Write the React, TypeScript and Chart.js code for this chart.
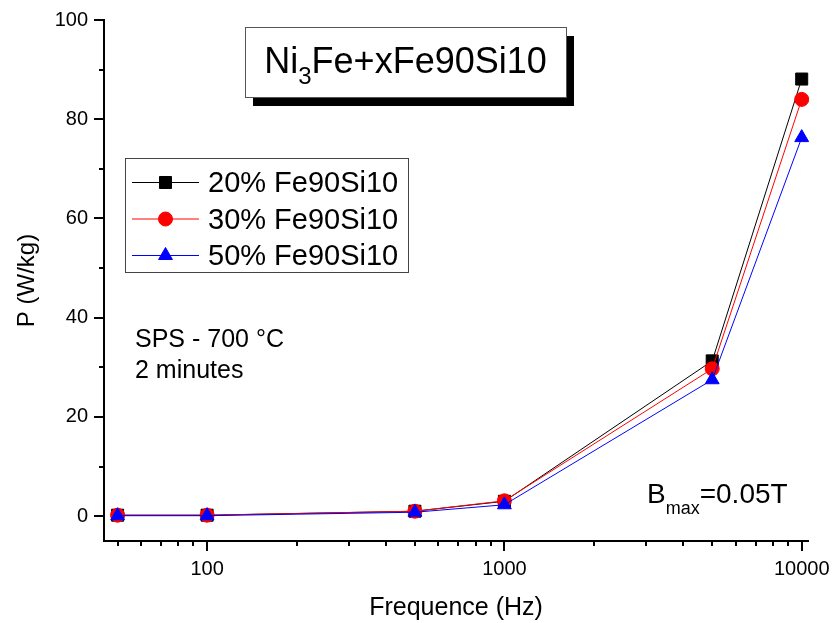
import React, { useEffect, useRef } from 'react';
import { Chart, registerables } from 'chart.js';
import { drawPoint } from 'chart.js/helpers';

Chart.register(...registerables);

const frequencies = [50, 100, 500, 1000, 5000, 10000];
const series20 = [0.2, 0.2, 1.0, 3.0, 31.3, 88.1];
const series30 = [0.2, 0.2, 1.0, 3.1, 29.7, 84.0];
const series50 = [0.1, 0.1, 0.8, 2.3, 27.5, 76.3];
const seriesLabels = ['20% Fe90Si10', '30% Fe90Si10', '50% Fe90Si10'];
const seriesColors = ['#000000', '#ff0000', '#0000ff'];
const seriesStyles = ['rect', 'circle', 'triangle'];
const seriesRadii = [8.5, 7, 8];

const xMajorTicks = [100, 1000, 10000];
const xMinorTicks = [50, 60, 70, 80, 90, 200, 300, 400, 500, 600, 700, 800, 900, 2000, 3000, 4000, 5000, 6000, 7000, 8000, 9000];
const yMajorTicks = [0, 20, 40, 60, 80, 100];
const yMinorTicks = [10, 30, 50, 70, 90];

const FONT = "'Liberation Sans', Arial, Helvetica, sans-serif";

const zeroPadding = (s: any) => {
  s.paddingTop = 0;
  s.paddingBottom = 0;
  s.paddingLeft = 0;
  s.paddingRight = 0;
};

const tickPlugin = {
  id: 'axisTicks',
  afterDraw(chart: any) {
    const { ctx, chartArea } = chart;
    const xs = chart.scales.x;
    const ys = chart.scales.y;
    ctx.save();
    ctx.strokeStyle = '#000';
    ctx.lineWidth = 2;
    const bottom = chartArea.bottom;
    const left = chartArea.left;
    const drawX = (vals: number[], len: number) => {
      vals.forEach((v) => {
        const px = Math.round(xs.getPixelForValue(v));
        ctx.beginPath();
        ctx.moveTo(px, bottom);
        ctx.lineTo(px, bottom + len);
        ctx.stroke();
      });
    };
    const drawY = (vals: number[], len: number) => {
      vals.forEach((v) => {
        const py = Math.round(ys.getPixelForValue(v));
        ctx.beginPath();
        ctx.moveTo(left, py);
        ctx.lineTo(left - len, py);
        ctx.stroke();
      });
    };
    drawX(xMajorTicks, 10);
    drawX(xMinorTicks, 5);
    drawY(yMajorTicks, 10);
    drawY(yMinorTicks, 5);
    ctx.restore();
  },
};

const annotationPlugin = {
  id: 'annotations',
  afterDraw(chart: any) {
    const { ctx } = chart;
    ctx.save();
    // Title box with shadow
    const bx = 245, by = 27, bw = 321, bh = 70;
    ctx.fillStyle = '#000';
    ctx.fillRect(bx + 8, by + 9, bw, bh);
    ctx.fillStyle = '#fff';
    ctx.fillRect(bx, by, bw, bh);
    ctx.strokeStyle = '#555';
    ctx.lineWidth = 1;
    ctx.strokeRect(bx + 0.5, by + 0.5, bw, bh);

    ctx.fillStyle = '#000';
    ctx.textBaseline = 'alphabetic';
    ctx.textAlign = 'left';
    ctx.font = `36px ${FONT}`;
    const p1 = 'Ni';
    const p2 = '3';
    const p3 = 'Fe+xFe90Si10';
    const w1 = ctx.measureText(p1).width;
    const w3 = ctx.measureText(p3).width;
    ctx.font = `24px ${FONT}`;
    const w2 = ctx.measureText(p2).width;
    const total = w1 + w2 + w3;
    let tx = bx + bw / 2 - total / 2;
    ctx.font = `36px ${FONT}`;
    ctx.fillText(p1, tx, 73);
    tx += w1;
    ctx.font = `24px ${FONT}`;
    ctx.fillText(p2, tx, 84);
    tx += w2;
    ctx.font = `36px ${FONT}`;
    ctx.fillText(p3, tx, 73);

    // Legend
    const lx = 125, ly = 158, lw = 283, lh = 114;
    ctx.fillStyle = '#fff';
    ctx.fillRect(lx, ly, lw, lh);
    ctx.strokeStyle = '#444';
    ctx.lineWidth = 1;
    ctx.strokeRect(lx + 0.5, ly + 0.5, lw, lh);
    const rows = [182, 218.5, 255];
    chart.data.datasets.forEach((ds: any, i: number) => {
      const cy = rows[i];
      ctx.strokeStyle = ds.borderColor;
      ctx.lineWidth = 1;
      ctx.beginPath();
      ctx.moveTo(132, cy + 0.5);
      ctx.lineTo(199, cy + 0.5);
      ctx.stroke();
      ctx.fillStyle = ds.pointBackgroundColor;
      ctx.strokeStyle = ds.pointBorderColor;
      ctx.lineWidth = 1;
      drawPoint(ctx, { pointStyle: ds.pointStyle, rotation: 0, radius: ds.pointRadius, borderWidth: 1 }, 165.5, cy + 0.5);
      ctx.fillStyle = '#000';
      ctx.font = `29px ${FONT}`;
      ctx.textBaseline = 'alphabetic';
      ctx.fillText(ds.label, 208, cy + 10);
    });

    // SPS text
    ctx.fillStyle = '#000';
    ctx.font = `25px ${FONT}`;
    ctx.fillText('SPS - 700 \u00B0C', 135, 347);
    ctx.fillText('2 minutes', 135, 378);

    // Bmax
    ctx.font = `28px ${FONT}`;
    let bxp = 647;
    ctx.fillText('B', bxp, 503);
    bxp += ctx.measureText('B').width;
    ctx.font = `18px ${FONT}`;
    ctx.fillText('max', bxp, 514);
    bxp += ctx.measureText('max').width;
    ctx.font = `28px ${FONT}`;
    ctx.fillText('=0.05T', bxp, 503);
    ctx.restore();
  },
};

export default function App() {
  const canvasRef = useRef<HTMLCanvasElement | null>(null);

  useEffect(() => {
    document.body.style.margin = '0';
    const canvas = canvasRef.current;
    if (!canvas) return;
    const seriesData = [series20, series30, series50];
    const datasets = seriesData.map((vals, i) => ({
      label: seriesLabels[i],
      data: frequencies.map((f, j) => ({ x: f, y: vals[j] })),
      borderColor: seriesColors[i],
      backgroundColor: seriesColors[i],
      pointBackgroundColor: seriesColors[i],
      pointBorderColor: seriesColors[i],
      pointBorderWidth: 1,
      pointStyle: seriesStyles[i],
      pointRadius: seriesRadii[i],
      borderWidth: 1,
      tension: 0,
      fill: false,
      clip: false,
      order: 2 - i,
    }));

    const chart = new Chart(canvas, {
      type: 'line',
      data: { datasets },
      options: {
        responsive: false,
        animation: false,
        devicePixelRatio: 1,
        layout: { padding: { left: 0, right: 24, top: 20, bottom: 0 } },
        plugins: {
          legend: { display: false },
          tooltip: { enabled: false },
        },
        scales: {
          x: {
            type: 'logarithmic',
            position: 'bottom',
            min: 45,
            max: 10500,
            grid: { display: false, drawTicks: false },
            border: { display: true, color: '#000', width: 2 },
            ticks: {
              color: '#000',
              font: { family: FONT, size: 20 },
              padding: 16,
              autoSkip: false,
              maxRotation: 0,
              callback: (v: any) => String(v),
            },
            afterBuildTicks: (s: any) => {
              s.ticks = xMajorTicks.map((v) => ({ value: v }));
            },
            afterFit: (s: any) => {
              s.height = 82;
              zeroPadding(s);
            },
            title: {
              display: true,
              text: 'Frequence (Hz)',
              color: '#000',
              font: { family: FONT, size: 25 },
              padding: { top: 0, bottom: 0 },
            },
          },
          y: {
            type: 'linear',
            min: -5,
            max: 100,
            grid: { display: false, drawTicks: false },
            border: { display: true, color: '#000', width: 2 },
            ticks: {
              color: '#000',
              font: { family: FONT, size: 20 },
              padding: 16,
              autoSkip: false,
              callback: (v: any) => String(v),
            },
            afterBuildTicks: (s: any) => {
              s.ticks = yMajorTicks.map((v) => ({ value: v }));
            },
            afterFit: (s: any) => {
              s.width = 104;
              zeroPadding(s);
            },
            title: {
              display: true,
              text: 'P (W/kg)',
              color: '#000',
              font: { family: FONT, size: 24 },
              padding: { top: 13, bottom: 0 },
            },
          },
        },
      },
      plugins: [tickPlugin, annotationPlugin],
    } as any);

    return () => {
      chart.destroy();
    };
  }, []);

  return (
    <div style={{ width: 832, height: 623 }}>
      <canvas ref={canvasRef} width={832} height={623} style={{ display: 'block' }} />
    </div>
  );
}
